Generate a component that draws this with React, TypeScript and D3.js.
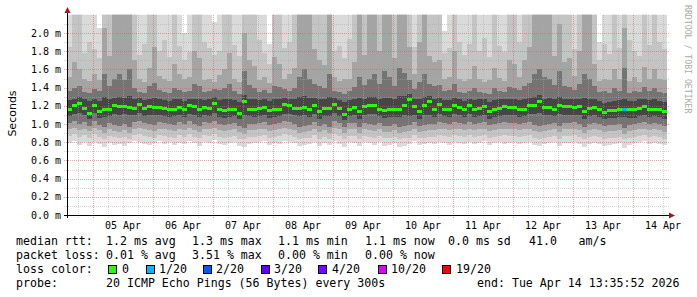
import React from "react";
import * as d3 from "d3";

// ---------- data ----------
const endTime = new Date(Date.UTC(2026, 3, 14, 13, 35, 52));
const spanDays = 10;
const columnHours = 2; // 120 columns over 10 days

const medianRtt = [
  1.16, 1.21, 1.23, 1.18, 1.12, 1.21, 1.14, 1.16, 1.17, 1.21,
  1.20, 1.20, 1.19, 1.18, 1.22, 1.18, 1.20, 1.19, 1.19, 1.18,
  1.16, 1.17, 1.19, 1.17, 1.21, 1.20, 1.16, 1.19, 1.18, 1.23,
  1.16, 1.15, 1.16, 1.17, 1.12, 1.25, 1.17, 1.16, 1.18, 1.19,
  1.15, 1.16, 1.17, 1.22, 1.21, 1.18, 1.18, 1.19, 1.16, 1.21,
  1.14, 1.18, 1.18, 1.22, 1.18, 1.11, 1.17, 1.19, 1.14, 1.20,
  1.21, 1.21, 1.17, 1.15, 1.17, 1.17, 1.17, 1.21, 1.27, 1.20,
  1.14, 1.21, 1.25, 1.17, 1.22, 1.17, 1.17, 1.21, 1.19, 1.17,
  1.21, 1.17, 1.18, 1.20, 1.14, 1.17, 1.18, 1.20, 1.19, 1.19,
  1.17, 1.17, 1.21, 1.21, 1.25, 1.19, 1.19, 1.17, 1.21, 1.20,
  1.20, 1.19, 1.20, 1.14, 1.18, 1.19, 1.17, 1.13, 1.15, 1.15,
  1.17, 1.17, 1.16, 1.16, 1.18, 1.20, 1.17, 1.17, 1.16, 1.14,
];

const lossCount = [
  0, 0, 0, 0, 0, 0, 0, 0, 0, 0,
  0, 0, 0, 0, 0, 0, 0, 0, 0, 0,
  0, 0, 0, 0, 0, 0, 0, 0, 0, 0,
  0, 0, 0, 0, 0, 0, 0, 0, 0, 0,
  0, 0, 0, 0, 0, 0, 0, 0, 0, 0,
  0, 0, 0, 0, 0, 0, 0, 0, 0, 0,
  0, 0, 0, 0, 0, 0, 0, 0, 0, 0,
  0, 0, 0, 0, 0, 0, 0, 0, 0, 0,
  0, 0, 0, 0, 0, 0, 0, 0, 0, 0,
  0, 0, 0, 0, 0, 0, 0, 0, 0, 0,
  0, 0, 0, 0, 0, 0, 0, 0, 0, 0,
  0, 1, 0, 0, 0, 0, 0, 0, 0, 0,
];

// sorted ping quantiles (ms) per column: lower side
const pingP1 = [
  0.79, 0.81, 0.77, 0.80, 0.76, 0.80, 0.78, 0.75, 0.79, 0.77,
  0.78, 0.76, 0.79, 0.81, 0.80, 0.78, 0.77, 0.79, 0.81, 0.78,
  0.80, 0.77, 0.79, 0.78, 0.81, 0.79, 0.76, 0.80, 0.79, 0.82,
  0.78, 0.77, 0.79, 0.80, 0.76, 0.75, 0.78, 0.79, 0.80, 0.81,
  0.77, 0.79, 0.78, 0.81, 0.80, 0.79, 0.76, 0.77, 0.78, 0.80,
  0.76, 0.79, 0.77, 0.81, 0.78, 0.75, 0.80, 0.79, 0.76, 0.80,
  0.79, 0.77, 0.80, 0.76, 0.77, 0.79, 0.75, 0.76, 0.78, 0.81,
  0.77, 0.78, 0.79, 0.78, 0.80, 0.79, 0.77, 0.80, 0.79, 0.78,
  0.80, 0.78, 0.79, 0.81, 0.77, 0.79, 0.80, 0.78, 0.79, 0.80,
  0.78, 0.79, 0.80, 0.77, 0.76, 0.78, 0.79, 0.80, 0.76, 0.79,
  0.79, 0.80, 0.78, 0.75, 0.78, 0.79, 0.78, 0.76, 0.77, 0.78,
  0.79, 0.74, 0.77, 0.79, 0.80, 0.81, 0.78, 0.79, 0.78, 0.77,
];
const pingP3 = [
  0.87, 0.89, 0.86, 0.88, 0.85, 0.89, 0.86, 0.84, 0.87, 0.86,
  0.85, 0.86, 0.84, 0.88, 0.89, 0.87, 0.86, 0.85, 0.88, 0.87,
  0.86, 0.85, 0.88, 0.86, 0.89, 0.86, 0.85, 0.88, 0.87, 0.89,
  0.86, 0.85, 0.86, 0.87, 0.84, 0.83, 0.86, 0.86, 0.87, 0.88,
  0.85, 0.86, 0.87, 0.89, 0.88, 0.86, 0.84, 0.85, 0.85, 0.88,
  0.84, 0.86, 0.84, 0.89, 0.87, 0.84, 0.87, 0.87, 0.84, 0.87,
  0.86, 0.85, 0.87, 0.85, 0.85, 0.86, 0.84, 0.85, 0.85, 0.88,
  0.85, 0.85, 0.86, 0.86, 0.88, 0.87, 0.86, 0.88, 0.87, 0.86,
  0.88, 0.86, 0.87, 0.88, 0.85, 0.86, 0.87, 0.88, 0.87, 0.87,
  0.86, 0.87, 0.88, 0.85, 0.84, 0.85, 0.86, 0.87, 0.84, 0.87,
  0.87, 0.88, 0.86, 0.84, 0.86, 0.87, 0.86, 0.84, 0.85, 0.85,
  0.86, 0.83, 0.85, 0.86, 0.87, 0.88, 0.86, 0.87, 0.86, 0.84,
];
const pingP5 = [
  0.94, 0.96, 0.93, 0.95, 0.92, 0.96, 0.93, 0.90, 0.94, 0.92,
  0.91, 0.93, 0.90, 0.95, 0.96, 0.94, 0.93, 0.92, 0.95, 0.94,
  0.93, 0.92, 0.95, 0.93, 0.96, 0.93, 0.91, 0.95, 0.94, 0.96,
  0.93, 0.92, 0.93, 0.94, 0.91, 0.89, 0.93, 0.93, 0.94, 0.95,
  0.92, 0.93, 0.94, 0.96, 0.95, 0.93, 0.90, 0.91, 0.92, 0.95,
  0.91, 0.93, 0.90, 0.96, 0.94, 0.90, 0.94, 0.94, 0.90, 0.94,
  0.93, 0.92, 0.94, 0.91, 0.91, 0.93, 0.90, 0.91, 0.92, 0.95,
  0.91, 0.92, 0.93, 0.93, 0.95, 0.94, 0.93, 0.95, 0.94, 0.93,
  0.95, 0.93, 0.94, 0.95, 0.92, 0.93, 0.94, 0.95, 0.94, 0.94,
  0.93, 0.94, 0.95, 0.92, 0.91, 0.92, 0.93, 0.94, 0.91, 0.94,
  0.94, 0.95, 0.93, 0.90, 0.93, 0.94, 0.93, 0.91, 0.92, 0.92,
  0.93, 0.89, 0.92, 0.93, 0.94, 0.95, 0.93, 0.94, 0.93, 0.91,
];
const pingP7 = [
  1.01, 1.03, 1.00, 1.02, 0.98, 1.03, 0.99, 0.97, 1.01, 0.99,
  0.98, 1.00, 0.97, 1.02, 1.03, 1.01, 1.00, 0.99, 1.02, 1.01,
  1.00, 0.99, 1.02, 1.00, 1.03, 1.00, 0.98, 1.02, 1.01, 1.03,
  1.00, 0.99, 1.00, 1.01, 0.98, 0.96, 1.00, 1.00, 1.01, 1.02,
  0.99, 1.00, 1.01, 1.03, 1.02, 1.00, 0.97, 0.98, 0.99, 1.02,
  0.98, 1.00, 0.97, 1.03, 1.01, 0.97, 1.01, 1.01, 0.97, 1.01,
  1.00, 0.99, 1.01, 0.98, 0.98, 1.00, 0.97, 0.98, 0.99, 1.02,
  0.98, 0.99, 1.00, 1.00, 1.02, 1.01, 1.00, 1.02, 1.01, 1.00,
  1.02, 1.00, 1.01, 1.02, 0.99, 1.00, 1.01, 1.02, 1.01, 1.01,
  1.00, 1.01, 1.02, 0.99, 0.98, 0.99, 1.00, 1.01, 0.98, 1.01,
  1.01, 1.02, 1.00, 0.97, 1.00, 1.01, 1.00, 0.98, 0.99, 0.99,
  1.00, 0.96, 0.99, 1.00, 1.01, 1.02, 1.00, 1.01, 1.00, 0.98,
];
const pingP9 = [
  1.09, 1.11, 1.12, 1.10, 1.06, 1.12, 1.07, 1.08, 1.09, 1.11,
  1.10, 1.11, 1.10, 1.10, 1.12, 1.09, 1.10, 1.10, 1.10, 1.09,
  1.08, 1.09, 1.10, 1.08, 1.11, 1.10, 1.08, 1.10, 1.09, 1.12,
  1.08, 1.07, 1.08, 1.09, 1.05, 1.10, 1.09, 1.08, 1.09, 1.10,
  1.07, 1.08, 1.09, 1.11, 1.11, 1.10, 1.09, 1.10, 1.08, 1.11,
  1.06, 1.09, 1.09, 1.12, 1.09, 1.04, 1.09, 1.10, 1.06, 1.10,
  1.11, 1.11, 1.09, 1.07, 1.08, 1.08, 1.08, 1.10, 1.09, 1.10,
  1.06, 1.10, 1.10, 1.08, 1.11, 1.09, 1.08, 1.11, 1.10, 1.08,
  1.11, 1.08, 1.09, 1.10, 1.06, 1.08, 1.09, 1.10, 1.10, 1.10,
  1.08, 1.09, 1.11, 1.11, 1.12, 1.10, 1.10, 1.09, 1.11, 1.10,
  1.10, 1.10, 1.10, 1.06, 1.09, 1.10, 1.08, 1.05, 1.07, 1.07,
  1.08, 1.08, 1.07, 1.07, 1.09, 1.10, 1.08, 1.09, 1.08, 1.06,
];
// upper side
const pingP12 = [
  1.26, 1.28, 1.30, 1.27, 1.25, 1.28, 1.25, 1.30, 1.27, 1.29,
  1.30, 1.29, 1.31, 1.28, 1.29, 1.26, 1.28, 1.29, 1.27, 1.26,
  1.25, 1.27, 1.27, 1.25, 1.28, 1.28, 1.27, 1.26, 1.27, 1.30,
  1.26, 1.27, 1.28, 1.26, 1.24, 1.32, 1.28, 1.27, 1.26, 1.27,
  1.25, 1.27, 1.28, 1.29, 1.28, 1.27, 1.30, 1.31, 1.29, 1.29,
  1.27, 1.27, 1.30, 1.29, 1.26, 1.24, 1.26, 1.28, 1.29, 1.28,
  1.30, 1.30, 1.28, 1.29, 1.29, 1.27, 1.31, 1.31, 1.33, 1.28,
  1.27, 1.30, 1.31, 1.27, 1.29, 1.26, 1.26, 1.29, 1.27, 1.25,
  1.28, 1.26, 1.27, 1.28, 1.24, 1.26, 1.27, 1.28, 1.28, 1.28,
  1.26, 1.27, 1.29, 1.30, 1.32, 1.28, 1.29, 1.27, 1.30, 1.28,
  1.28, 1.27, 1.28, 1.29, 1.28, 1.28, 1.25, 1.23, 1.24, 1.25,
  1.26, 1.28, 1.25, 1.25, 1.27, 1.28, 1.26, 1.27, 1.25, 1.24,
];
const pingP14 = [
  1.36, 1.40, 1.42, 1.35, 1.34, 1.38, 1.36, 1.55, 1.42, 1.50,
  1.55, 1.48, 1.60, 1.40, 1.35, 1.34, 1.42, 1.45, 1.37, 1.35,
  1.34, 1.40, 1.37, 1.35, 1.36, 1.44, 1.42, 1.35, 1.36, 1.38,
  1.37, 1.40, 1.44, 1.36, 1.33, 1.58, 1.43, 1.40, 1.35, 1.37,
  1.34, 1.42, 1.41, 1.38, 1.36, 1.40, 1.52, 1.60, 1.50, 1.44,
  1.42, 1.40, 1.55, 1.36, 1.35, 1.33, 1.36, 1.41, 1.52, 1.43,
  1.50, 1.55, 1.44, 1.58, 1.52, 1.42, 1.62, 1.56, 1.48, 1.38,
  1.46, 1.55, 1.44, 1.42, 1.43, 1.36, 1.37, 1.44, 1.35, 1.34,
  1.36, 1.40, 1.35, 1.34, 1.33, 1.40, 1.36, 1.35, 1.41, 1.40,
  1.37, 1.42, 1.45, 1.55, 1.60, 1.52, 1.50, 1.43, 1.58, 1.42,
  1.41, 1.37, 1.44, 1.55, 1.50, 1.42, 1.35, 1.36, 1.34, 1.40,
  1.36, 1.62, 1.34, 1.36, 1.35, 1.41, 1.36, 1.40, 1.35, 1.34,
];
const pingP16 = [
  1.52, 1.68, 1.60, 1.50, 1.47, 1.55, 1.48, 2.05, 1.75, 2.30,
  2.30, 2.30, 2.30, 1.70, 1.50, 1.46, 1.62, 1.85, 1.53, 1.49,
  1.47, 1.66, 1.55, 1.50, 1.52, 1.80, 1.72, 1.48, 1.50, 1.46,
  1.54, 1.60, 1.78, 1.50, 1.46, 2.00, 1.70, 1.64, 1.48, 1.52,
  1.45, 1.74, 1.66, 1.50, 1.55, 1.62, 2.30, 2.30, 2.30, 1.82,
  1.70, 1.65, 2.30, 1.52, 1.47, 1.50, 1.49, 1.68, 2.30, 1.76,
  2.30, 2.30, 1.80, 2.30, 2.30, 1.72, 2.30, 2.30, 1.85, 1.55,
  1.90, 2.30, 1.75, 1.68, 1.70, 1.50, 1.52, 1.80, 1.49, 1.47,
  1.50, 1.64, 1.50, 1.46, 1.48, 1.62, 1.51, 1.47, 1.70, 1.66,
  1.52, 1.70, 1.85, 2.30, 2.30, 2.30, 2.30, 1.75, 2.10, 1.68,
  1.72, 1.53, 1.80, 2.30, 2.30, 1.66, 1.47, 1.50, 1.48, 1.60,
  1.50, 2.05, 1.47, 1.52, 1.46, 1.63, 1.49, 1.60, 1.50, 1.48,
];
const pingP18 = [
  1.85, 2.30, 2.30, 1.78, 1.90, 1.82, 1.72, 2.30, 2.30, 2.30,
  2.30, 2.30, 2.30, 2.30, 1.76, 1.88, 2.30, 2.30, 1.80, 1.92,
  1.74, 2.30, 1.86, 1.70, 1.79, 2.30, 2.30, 1.90, 1.83, 1.76,
  1.80, 2.30, 2.30, 1.87, 1.75, 2.30, 2.30, 2.30, 1.92, 1.78,
  1.66, 2.30, 2.30, 1.84, 1.90, 2.30, 2.30, 2.30, 2.30, 2.30,
  2.30, 2.30, 2.30, 1.80, 1.86, 1.72, 1.93, 2.30, 2.30, 2.30,
  2.30, 2.30, 2.30, 2.30, 2.30, 2.30, 2.30, 2.30, 2.30, 1.85,
  2.30, 2.30, 2.30, 2.30, 2.30, 1.78, 1.83, 2.30, 1.90, 1.76,
  1.88, 2.30, 1.80, 1.94, 1.74, 2.30, 1.86, 1.79, 2.30, 2.30,
  1.90, 2.30, 2.30, 2.30, 2.30, 2.30, 2.30, 2.30, 2.30, 2.30,
  2.30, 1.82, 2.30, 2.30, 2.30, 2.30, 1.70, 1.88, 1.77, 2.30,
  1.84, 2.30, 1.92, 1.80, 1.75, 2.30, 1.87, 2.30, 1.90, 1.82,
];
const pingP20 = [
  2.30, 2.30, 2.30, 2.30, 2.30, 2.30, 2.05, 2.30, 2.30, 2.30,
  2.30, 2.30, 2.30, 2.30, 2.30, 2.30, 2.30, 2.30, 2.30, 2.30,
  2.30, 2.30, 2.30, 2.00, 2.30, 2.30, 2.30, 2.30, 2.30, 2.12,
  2.30, 2.30, 2.30, 2.30, 2.30, 2.30, 2.30, 2.30, 2.30, 2.30,
  1.88, 2.30, 2.30, 2.30, 2.30, 2.30, 2.30, 2.30, 2.30, 2.30,
  2.30, 2.30, 2.30, 2.30, 2.30, 2.30, 2.30, 2.30, 2.30, 2.30,
  2.30, 2.30, 2.30, 2.30, 2.30, 2.30, 2.30, 2.30, 2.30, 2.30,
  2.30, 2.30, 2.30, 2.30, 2.30, 2.02, 2.30, 2.30, 2.30, 2.30,
  2.30, 2.30, 2.30, 2.30, 2.30, 2.30, 2.30, 2.30, 2.30, 2.30,
  2.30, 2.30, 2.30, 2.30, 2.30, 2.30, 2.30, 2.30, 2.30, 2.30,
  2.30, 2.30, 2.30, 2.30, 2.30, 2.30, 1.90, 2.30, 2.30, 2.30,
  2.30, 2.30, 2.30, 2.30, 2.30, 2.30, 2.30, 2.30, 2.30, 2.30,
];

const yMajorTicks = [0, 0.2, 0.4, 0.6, 0.8, 1.0, 1.2, 1.4, 1.6, 1.8, 2.0];
const yMinorTicks = [0.1, 0.3, 0.5, 0.7, 0.9, 1.1, 1.3, 1.5, 1.7, 1.9, 2.1];

const lossLegendLabels = ["0", "1/20", "2/20", "3/20", "4/20", "10/20", "19/20"];
const lossLegendCounts = [0, 1, 2, 3, 4, 10, 19];
const lossLegendColors = ["#26ff00", "#00b8ff", "#0059ff", "#5e00ff", "#7e00ff", "#dd00ff", "#ff0000"];

const rttLabels = ["median rtt:", "1.2 ms avg", "1.3 ms max", "1.1 ms min", "1.1 ms now", "0.0 ms sd", "41.0", "am/s"];
const lossLabels = ["packet loss:", "0.01 % avg", "3.51 % max", "0.00 % min", "0.00 % now"];
const probeLabels = ["probe:", "20 ICMP Echo Pings (56 Bytes) every 300s", "end: Tue Apr 14 13:35:52 2026"];

// ---------- layout ----------
const W = 697;
const H = 297;
const PX0 = 67;
const PX1 = 667;
const PY0 = 215;
const YMAX = 2.2;
const MONO = "'DejaVu Sans Mono', monospace";

// outer -> inner smoke shades
const smokeColors = ["#dadada", "#c4c4c4", "#a4a4a4", "#747474", "#464646"];

function lossColor(n: number) {
  let c = lossLegendColors[0];
  for (let i = 0; i < lossLegendCounts.length; i++) {
    if (n >= lossLegendCounts[i]) c = lossLegendColors[i];
  }
  return c;
}

export default function App() {
  const startTime = new Date(endTime.getTime() - spanDays * 24 * 3600 * 1000);
  const x = d3.scaleUtc().domain([startTime, endTime]).range([PX0, PX1]);
  const y = d3.scaleLinear().domain([0, YMAX]).range([PY0, PY0 - YMAX * 91]);
  const yTop = y(YMAX);

  const colStart = (i: number) => new Date(startTime.getTime() + i * columnHours * 3600 * 1000);

  const lowers = [pingP1, pingP3, pingP5, pingP7, pingP9];
  const uppers = [pingP20, pingP18, pingP16, pingP14, pingP12];

  const minorV = d3.utcHour.every(6)!.range(startTime, endTime).filter((d) => d.getUTCHours() !== 0);
  const majorV = d3.utcDay.range(startTime, endTime);
  const fmtDay = d3.utcFormat("%d %b");

  const legendCols = [16, 106, 192, 278, 365, 448, 529, 578.5];
  const boxX = [108.5, 146.5, 203.5, 261.5, 318.5, 378.5, 442.5];
  const boxLabelX = [122, 159, 216, 274, 332, 391, 456];

  const minorStroke = "#a8a8a8";
  const majorStroke = "#d85c5c";

  return (
    <svg
      width={W}
      height={H}
      viewBox={`0 0 ${W} ${H}`}
      style={{ position: "absolute", left: 0, top: 0, background: "#fff" }}
    >
      <defs>
        <clipPath id="plot">
          <rect x={PX0} y={yTop} width={PX1 - PX0} height={PY0 - yTop} />
        </clipPath>
      </defs>
      <rect x={0} y={0} width={W} height={H} fill="#ffffff" />

      {/* smoke */}
      <g clipPath="url(#plot)" shapeRendering="crispEdges">
        {smokeColors.map((col, k) =>
          medianRtt.map((_, i) => {
            const x0 = x(colStart(i));
            const x1 = x(colStart(i + 1));
            const top = y(Math.min(uppers[k][i], YMAX + 0.1));
            const bot = y(lowers[k][i]);
            return (
              <rect
                key={`s${k}-${i}`}
                x={x0}
                y={top}
                width={x1 - x0}
                height={Math.max(0, bot - top)}
                fill={col}
              />
            );
          })
        )}
      </g>

      {/* grid */}
      <g shapeRendering="crispEdges">
        {yMinorTicks.map((v) => (
          <line key={`ym${v}`} x1={PX0 - 3} x2={PX1 + 3} y1={Math.round(y(v)) + 0.5} y2={Math.round(y(v)) + 0.5}
            stroke={minorStroke} strokeDasharray="1,1" strokeOpacity={0.5} />
        ))}
        {minorV.map((d) => (
          <line key={`xm${d.getTime()}`} x1={Math.round(x(d)) + 0.5} x2={Math.round(x(d)) + 0.5} y1={yTop} y2={PY0 + 3}
            stroke={minorStroke} strokeDasharray="1,1" strokeOpacity={0.5} />
        ))}
        {yMajorTicks.filter((v) => v > 0).map((v) => (
          <line key={`yM${v}`} x1={PX0 - 3} x2={PX1 + 3} y1={Math.round(y(v)) + 0.5} y2={Math.round(y(v)) + 0.5}
            stroke={majorStroke} strokeDasharray="1,1" strokeOpacity={0.55} />
        ))}
        {majorV.map((d) => (
          <line key={`xM${d.getTime()}`} x1={Math.round(x(d)) + 0.5} x2={Math.round(x(d)) + 0.5} y1={yTop} y2={PY0 + 3}
            stroke={majorStroke} strokeDasharray="1,1" strokeOpacity={0.55} />
        ))}
      </g>

      {/* median, colored by loss */}
      <g clipPath="url(#plot)" shapeRendering="crispEdges">
        {medianRtt.map((m, i) => (
          <rect key={`m${i}`} x={x(colStart(i))} y={Math.round(y(m)) - 1} width={x(colStart(i + 1)) - x(colStart(i))}
            height={3} fill={lossColor(lossCount[i])} />
        ))}
      </g>

      {/* axes */}
      <g shapeRendering="crispEdges">
        <line x1={PX0 - 3} x2={PX1 + 4} y1={PY0 + 0.5} y2={PY0 + 0.5} stroke="#000" />
        <line x1={PX0 + 0.5} x2={PX0 + 0.5} y1={PY0 + 3} y2={10} stroke="#000" />
      </g>
      <path d={`M${PX1 + 2},${PY0 - 2.5} L${PX1 + 8},${PY0 + 0.5} L${PX1 + 2},${PY0 + 3.5} Z`} fill="#a01818" />
      <path d={`M${PX0 - 2.5},${13} L${PX0 + 0.5},${7} L${PX0 + 3.5},${13} Z`} fill="#a01818" />

      {/* tick labels */}
      <g fontFamily={MONO} fontSize={10} fill="#000">
        {yMajorTicks.map((v) => (
          <text key={`yl${v}`} x={61} y={y(v)} dy="0.35em" textAnchor="end">
            {d3.format(".1f")(v) + " m"}
          </text>
        ))}
        {majorV.map((d) => (
          <text key={`xl${d.getTime()}`} x={x(d3.utcHour.offset(d, 12))} y={229} textAnchor="middle">
            {fmtDay(d)}
          </text>
        ))}
      </g>

      <text transform="translate(15.5,113.5) rotate(-90)" textAnchor="middle"
        fontFamily="'DejaVu Sans', sans-serif" fontSize={11} fill="#000">
        Seconds
      </text>
      <text transform="translate(684.5,5) rotate(90)" fontFamily={MONO} fontSize={8.2} fill="#aaaaaa">
        RRDTOOL / TOBI OETIKER
      </text>

      {/* legend */}
      <g fontFamily={MONO} fontSize={11.6} fill="#000" style={{ whiteSpace: "pre" }}>
        {rttLabels.map((t, i) => (
          <text key={`r${i}`} x={legendCols[i]} y={245}>{t}</text>
        ))}
        {lossLabels.map((t, i) => (
          <text key={`p${i}`} x={legendCols[i]} y={259}>{t}</text>
        ))}
        <text x={16} y={273}>loss color:</text>
        {lossLegendLabels.map((t, i) => (
          <g key={`b${i}`}>
            <rect x={boxX[i]} y={265.5} width={8} height={8} fill={lossLegendColors[i]} stroke="#000" strokeWidth={1} />
            <text x={boxLabelX[i]} y={273}>{t}</text>
          </g>
        ))}
        <text x={legendCols[0]} y={287}>{probeLabels[0]}</text>
        <text x={legendCols[1]} y={287}>{probeLabels[1]}</text>
        <text x={477} y={287}>{probeLabels[2]}</text>
      </g>
    </svg>
  );
}
